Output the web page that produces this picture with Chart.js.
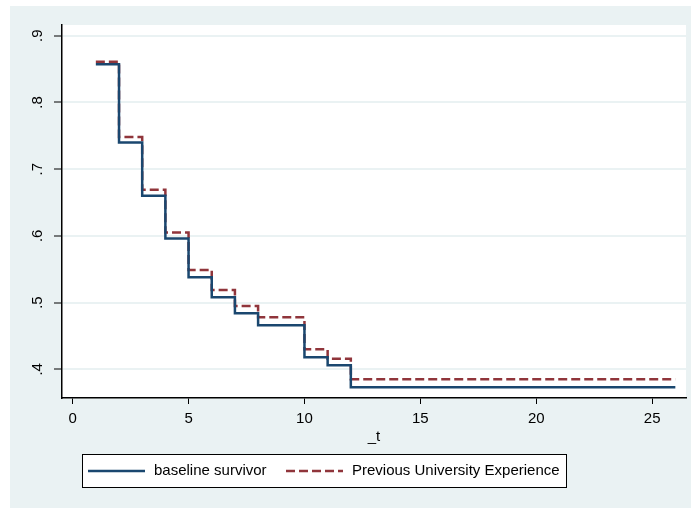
<!DOCTYPE html>
<html>
<head>
<meta charset="utf-8">
<script src="https://cdn.jsdelivr.net/npm/chart.js@4/dist/chart.umd.min.js"></script>
<style>
  html, body { margin: 0; padding: 0; background: #fff; }
  #wrap { width: 691px; height: 508px; }
</style>
</head>
<body>
<div id="wrap"><canvas id="chart" width="691" height="508"></canvas></div>
<script>
// time points (_t) where the survivor function is evaluated
const times = [1, 2, 3, 4, 5, 6, 7, 8, 9, 10, 11, 12, 13, 14, 15, 16, 18, 21, 26];
const baseline = [0.857, 0.740, 0.660, 0.596, 0.538, 0.508, 0.484, 0.466, 0.466, 0.418, 0.406,
                  0.373, 0.373, 0.373, 0.373, 0.373, 0.373, 0.373, 0.373];
const prevUni = [0.861, 0.748, 0.669, 0.605, 0.549, 0.519, 0.495, 0.478, 0.478, 0.430, 0.416,
                 0.385, 0.385, 0.385, 0.385, 0.385, 0.385, 0.385, 0.385];
const xTicks = [0, 5, 10, 15, 20, 25];
const yTicks = [0.4, 0.5, 0.6, 0.7, 0.8, 0.9];
const yTickLabels = ['.4', '.5', '.6', '.7', '.8', '.9'];
const seriesNames = ['baseline survivor', 'Previous University Experience'];

const FONT = 'Liberation Sans, Arial, sans-serif';
const BG = '#eaf2f3';
const BLUE = '#1a476f';
const RED = '#90353b';

const backdrop = {
    id: 'backdrop',
    beforeDraw(chart) {
        const ctx = chart.ctx;
        const a = chart.chartArea;
        ctx.save();
        ctx.fillStyle = '#fff';
        ctx.fillRect(0, 0, chart.width, chart.height);
        ctx.fillStyle = BG;
        ctx.fillRect(10, 6, chart.width - 10, chart.height - 6);
        ctx.fillStyle = '#fff';
        ctx.fillRect(a.left, a.top, a.right - a.left, a.bottom - a.top);
        ctx.restore();
    }
};

// y labels are turned on their side like the original
const yLabels = {
    id: 'yLabels',
    afterDraw(chart) {
        const ctx = chart.ctx;
        const y = chart.scales.y;
        ctx.save();
        ctx.fillStyle = '#000';
        ctx.font = '15px ' + FONT;
        ctx.textAlign = 'center';
        ctx.textBaseline = 'middle';
        yTicks.forEach((v, i) => {
            ctx.save();
            ctx.translate(38, y.getPixelForValue(v));
            ctx.rotate(-Math.PI / 2);
            ctx.fillText(yTickLabels[i], 0, 0);
            ctx.restore();
        });
        ctx.restore();
    }
};

const boxLegend = {
    id: 'boxLegend',
    afterDraw(chart) {
        const ctx = chart.ctx;
        ctx.save();
        ctx.fillStyle = '#fff';
        ctx.fillRect(82, 454, 484, 33);
        ctx.strokeStyle = '#000';
        ctx.lineWidth = 1;
        ctx.strokeRect(82.5, 454.5, 484, 33);
        const ly = 471;
        ctx.lineWidth = 2.5;
        ctx.strokeStyle = BLUE;
        ctx.beginPath(); ctx.moveTo(88, ly); ctx.lineTo(145, ly); ctx.stroke();
        ctx.strokeStyle = RED;
        ctx.setLineDash([9, 4]);
        ctx.beginPath(); ctx.moveTo(286, ly); ctx.lineTo(343, ly); ctx.stroke();
        ctx.setLineDash([]);
        ctx.fillStyle = '#000';
        ctx.font = '15px ' + FONT;
        ctx.textBaseline = 'middle';
        ctx.fillText(seriesNames[0], 154, ly);
        ctx.fillText(seriesNames[1], 352, ly);
        ctx.restore();
    }
};

const ctx = document.getElementById('chart').getContext('2d');
new Chart(ctx, {
    type: 'line',
    data: {
        datasets: [
            {
                label: seriesNames[0],
                data: times.map((t, i) => ({ x: t, y: baseline[i] })),
                borderColor: BLUE,
                borderWidth: 2.5,
                stepped: 'before',
                pointRadius: 0,
                fill: false
            },
            {
                label: seriesNames[1],
                data: times.map((t, i) => ({ x: t, y: prevUni[i] })),
                borderColor: RED,
                borderWidth: 2.5,
                borderDash: [9, 4],
                stepped: 'before',
                pointRadius: 0,
                fill: false
            }
        ]
    },
    options: {
        responsive: false,
        animation: false,
        layout: { padding: { top: 25, right: 5, left: 0, bottom: 0 } },
        plugins: {
            legend: { display: false },
            tooltip: { enabled: false }
        },
        scales: {
            x: {
                type: 'linear',
                min: -0.46,
                max: 26.46,
                afterBuildTicks: (s) => { s.ticks = xTicks.map(v => ({ value: v })); },
                afterFit: (s) => { s.height = 110; },
                grid: { drawOnChartArea: false, drawTicks: true, tickLength: 6, tickColor: '#000', tickWidth: 1 },
                border: { color: '#000', width: 1.5 },
                ticks: { color: '#000', font: { size: 15, family: FONT }, padding: 6, maxRotation: 0 },
                title: { display: true, text: '_t', color: '#000', font: { size: 15, family: FONT }, padding: { top: 0, bottom: 62 } }
            },
            y: {
                type: 'linear',
                min: 0.357,
                max: 0.916,
                afterBuildTicks: (s) => { s.ticks = yTicks.map(v => ({ value: v })); },
                afterFit: (s) => { s.width = 62; },
                grid: { color: BG, lineWidth: 2, drawTicks: true, tickLength: 8, tickColor: '#000', tickWidth: 1 },
                border: { color: '#000', width: 1.5 },
                ticks: { display: false }
            }
        }
    },
    plugins: [backdrop, yLabels, boxLegend]
});
</script>
</body>
</html>
